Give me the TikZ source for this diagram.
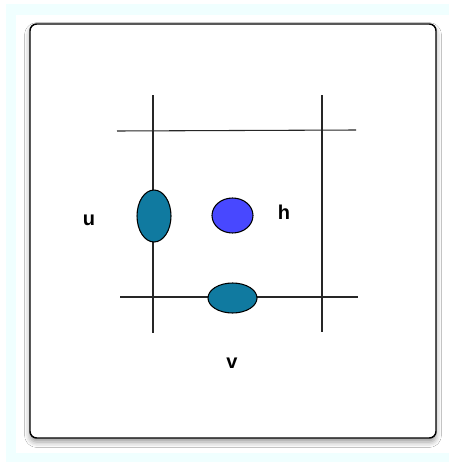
\documentclass[tikz,border=0pt]{standalone}
\usepackage{fontspec}
\setmainfont{Liberation Sans}
\usetikzlibrary{shapes.geometric,shadows.blur}
\definecolor{pale}{RGB}{240,255,255}
\definecolor{sea}{RGB}{16,122,160}
\definecolor{bluecell}{RGB}{72,72,255}
\begin{document}
\begin{tikzpicture}[x=0.75pt,y=-0.75pt,
  grid/.style={line width=0.8pt,black!85},
  cell/.style={ellipse,draw=black,line width=0.8pt,inner sep=0pt},
  lbl/.style={font=\bfseries\fontsize{15}{18}\selectfont,anchor=base}]
\useasboundingbox (0,0) rectangle (449,464);
\fill[pale] (6,4) rectangle (449,462);
\fill[white] (16,15) rectangle (449,453);
\draw[line width=1.1pt,rounded corners=5pt,fill=white,
  blur shadow={shadow xshift=0pt,shadow yshift=-3pt,shadow blur radius=4pt}]
  (30,24) rectangle (436,438);
\coordinate (l1top) at (153,95);
\coordinate (l1bot) at (153,333);
\coordinate (l2top) at (322,95);
\coordinate (l2bot) at (322,332);
\coordinate (ttop) at (117,131);
\coordinate (tend) at (356,130);
\coordinate (bstart) at (120,297);
\coordinate (bend) at (358,297);
\draw[grid] (l1top)--(l1bot);
\draw[grid] (l2top)--(l2bot);
\draw[grid] (ttop)--(tend);
\draw[grid] (bstart)--(bend);
\node[cell,fill=sea,minimum width=25.5pt,minimum height=39pt] (uc) at (154,216) {};
\node[cell,fill=bluecell,minimum width=30.75pt,minimum height=26.25pt] (hc) at (232.5,215.5) {};
\node[cell,fill=sea,minimum width=36.75pt,minimum height=22.5pt] (vc) at (232.5,298) {};
\node[lbl] (u) at (89,225) {u};
\node[lbl] (h) at (284,219) {h};
\node[lbl] (v) at (232,368) {v};
\end{tikzpicture}
\end{document}
